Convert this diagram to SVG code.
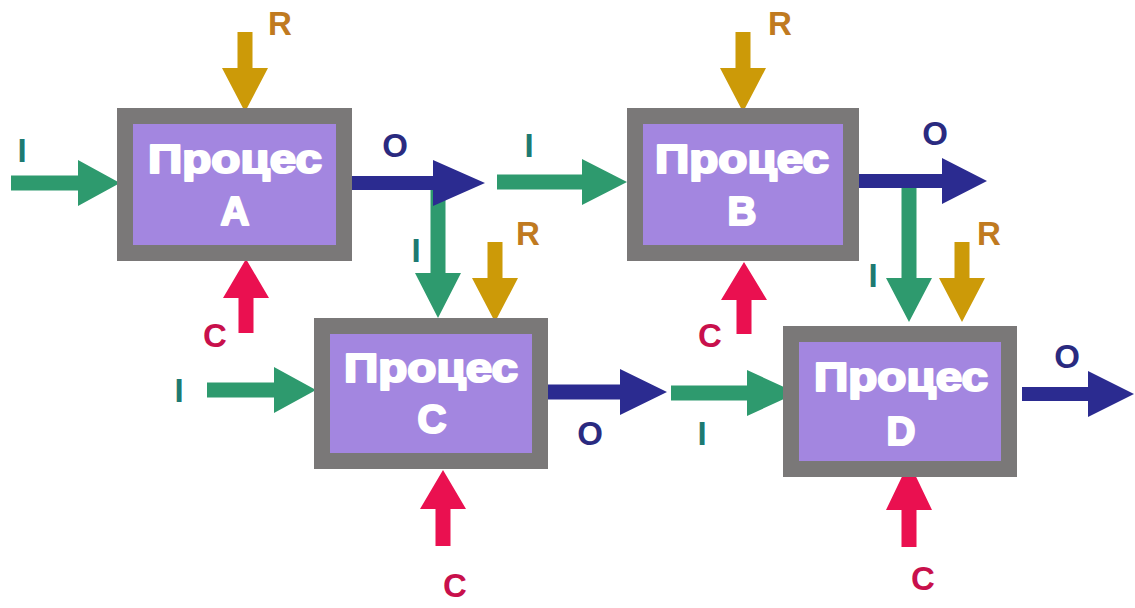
<svg xmlns="http://www.w3.org/2000/svg" width="1135" height="608" viewBox="0 0 1135 608">
<style>
.box{fill:#a386e0;stroke:#7a7878;stroke-width:16}
.t{font-family:"Liberation Sans",Arial,sans-serif;font-weight:bold;fill:#ffffff;stroke:#ffffff;stroke-width:2.2;stroke-linejoin:round;text-anchor:middle;font-size:40px}
.g{fill:#2e9a6e}
.n{fill:#2b2b90}
.y{fill:#cc9a08}
.p{fill:#ea1050}
.l{font-family:"Liberation Sans",Arial,sans-serif;font-weight:bold;font-size:33px;text-anchor:middle}
.li{fill:#1d7a72}
.lo{fill:#2a2a80}
.lr{fill:#c07a20}
.lc{fill:#c8104c}
</style>
<rect width="1135" height="608" fill="#ffffff"/>
<g id="connectors">
  <polygon class="g" points="430.5,188 445.5,188 445.5,273 461,273 438,318 415,273 430.5,273"/>
  <polygon class="g" points="901.5,186 916.5,186 916.5,278 932,278 909,322 886,278 901.5,278"/>
  <polygon class="g" points="11,175.5 78,175.5 78,160 120,183 78,206 78,190.5 11,190.5"/>
  <polygon class="y" points="237.5,32 252.5,32 252.5,68 268,68 245,112 222,68 237.5,68"/>
  <polygon class="p" points="238.5,333 253.5,333 253.5,298 269,298 246,259 223,298 238.5,298"/>
  <polygon class="n" points="352,176 433,176 433,160 485,183 433,206 433,190 352,190"/>
  <polygon class="g" points="497,174.5 582,174.5 582,159 627,182 582,205 582,189.5 497,189.5"/>
  <polygon class="y" points="735.5,32 750.5,32 750.5,68 766,68 743,112 720,68 735.5,68"/>
  <polygon class="p" points="736.5,334 751.5,334 751.5,300 767,300 744,262 721,300 736.5,300"/>
  <polygon class="n" points="859,174 942,174 942,158 987,181 942,204 942,188 859,188"/>
  <polygon class="y" points="487.5,242 502.5,242 502.5,278 518,278 495,322 472,278 487.5,278"/>
  <polygon class="g" points="207,382.5 274,382.5 274,367 316,390 274,413 274,397.5 207,397.5"/>
  <polygon class="n" points="548,384.5 620,384.5 620,369 667,392 620,415 620,399.5 548,399.5"/>
  <polygon class="p" points="435.5,546 450.5,546 450.5,509 466,509 443,470 420,509 435.5,509"/>
  <polygon class="y" points="954.5,242 969.5,242 969.5,278 985,278 962,322 939,278 954.5,278"/>
  <polygon class="g" points="671,385.5 747,385.5 747,370 797,393 747,416 747,400.5 671,400.5"/>
  <polygon class="n" points="1022,387 1088,387 1088,371 1134,394 1088,417 1088,401 1022,401"/>
  <polygon class="p" points="901.5,547 916.5,547 916.5,510 932,510 909,462 886,510 901.5,510"/>
</g>
<g id="nodeA">
  <rect class="box" x="125" y="116" width="219" height="137"/>
  <text class="t" x="235" y="173" textLength="174" lengthAdjust="spacingAndGlyphs">Процес</text>
  <text class="t" x="235" y="225">A</text>
</g>
<g id="nodeB">
  <rect class="box" x="635" y="116" width="216" height="137"/>
  <text class="t" x="742" y="173" textLength="174" lengthAdjust="spacingAndGlyphs">Процес</text>
  <text class="t" x="742" y="225">B</text>
</g>
<g id="nodeC">
  <rect class="box" x="322" y="326" width="218" height="135"/>
  <text class="t" x="431" y="382" textLength="174" lengthAdjust="spacingAndGlyphs">Процес</text>
  <text class="t" x="432" y="433">C</text>
</g>
<g id="nodeD">
  <rect class="box" x="791" y="334" width="218" height="135"/>
  <text class="t" x="901" y="391" textLength="174" lengthAdjust="spacingAndGlyphs">Процес</text>
  <text class="t" x="901" y="445">D</text>
</g>
<g id="labels">
  <text class="l li" x="22" y="162">I</text>
  <text class="l lr" x="280" y="35">R</text>
  <text class="l lo" x="395" y="157">O</text>
  <text class="l li" x="416" y="262">I</text>
  <text class="l lc" x="215" y="347">C</text>
  <text class="l lr" x="528" y="245">R</text>
  <text class="l li" x="179" y="402">I</text>
  <text class="l lo" x="590" y="445">O</text>
  <text class="l lc" x="455" y="597">C</text>
  <text class="l li" x="529" y="157">I</text>
  <text class="l lr" x="780" y="35">R</text>
  <text class="l lc" x="710" y="347">C</text>
  <text class="l lo" x="935" y="145">O</text>
  <text class="l li" x="873" y="287">I</text>
  <text class="l lr" x="989" y="245">R</text>
  <text class="l li" x="702" y="445">I</text>
  <text class="l lo" x="1067" y="368">O</text>
  <text class="l lc" x="923" y="590">C</text>
</g>
</svg>
